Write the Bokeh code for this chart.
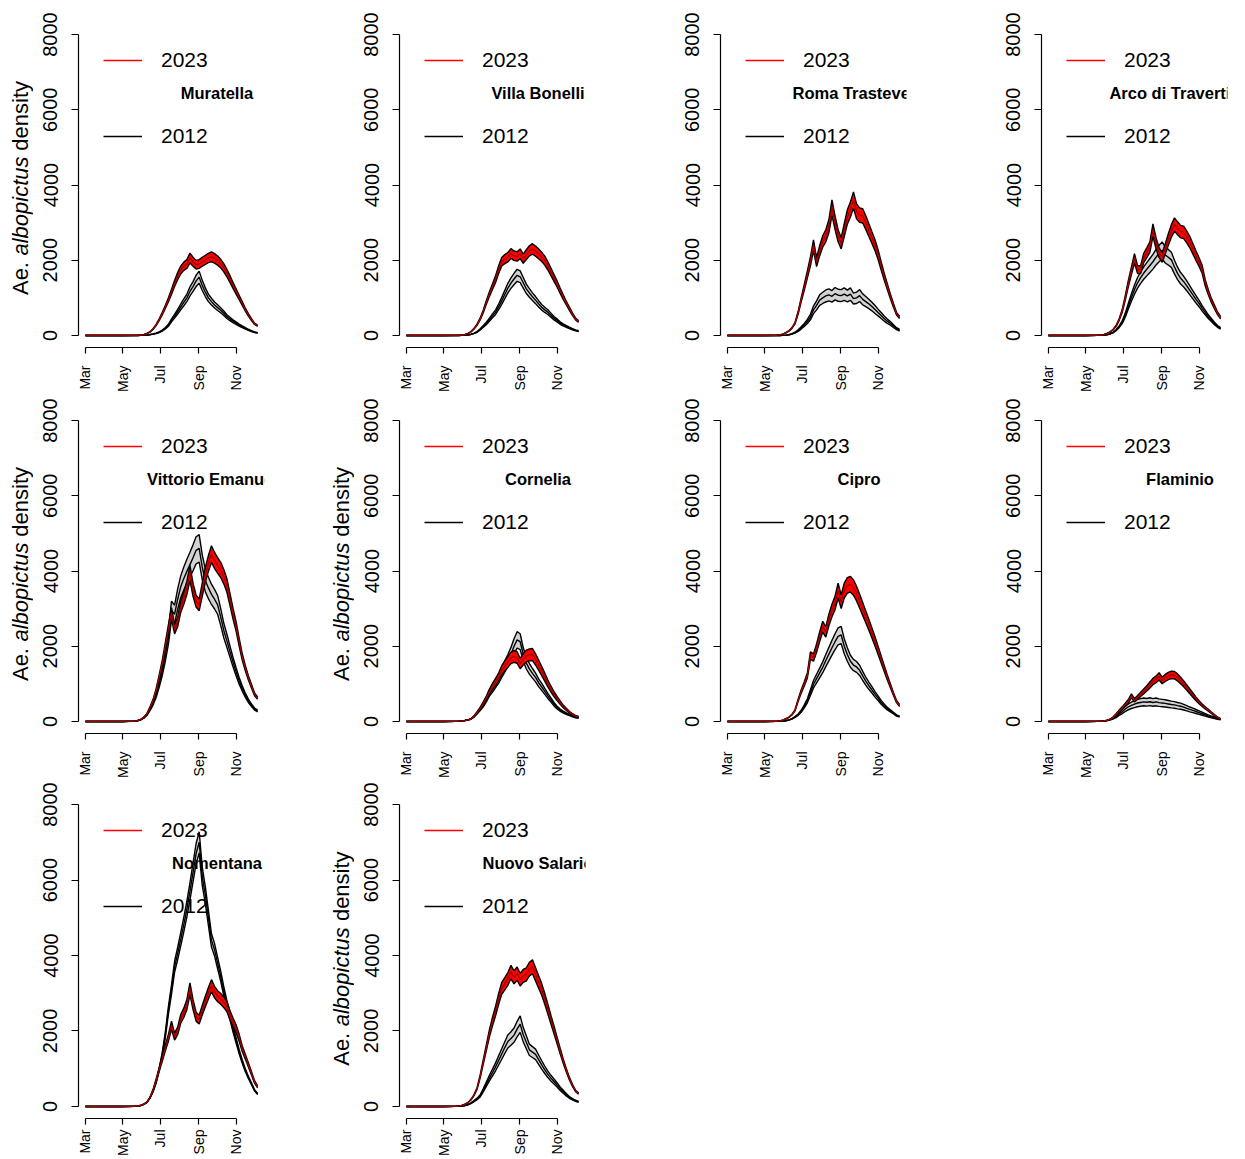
import math
from bokeh.plotting import figure
from bokeh.layouts import row, column
from bokeh.models import Range1d, FixedTicker, Legend, LegendItem
from bokeh.core.properties import value
from bokeh.embed import file_html
from bokeh.resources import INLINE

# ---------------- data ----------------
# day number counted from 1 March
days = [0, 60, 80,
        85, 90, 95, 100, 105, 110, 115, 120, 125, 130,
        135, 140, 145, 150, 155, 160, 165, 170, 175, 180,
        185, 190, 195, 200, 205, 210, 215, 220, 225, 230,
        235, 240, 245, 250, 255, 260, 265, 270, 275, 280]

month_ticks = [0, 61, 122, 184, 245]
month_labels = ["Mar", "May", "Jul", "Sep", "Nov"]
y_ticks = [0, 2000, 4000, 6000, 8000]
y_limits = [0, 8000]
series_labels = ["2023", "2012"]
ylabel_parts = ["Ae.", "albopictus", "density"]
ylabel_styles = ["normal", "italic", "normal"]

stations = ["Muratella", "Villa Bonelli", "Roma Trastevere", "Arco di Travertino",
            "Vittorio Emanuele", "Cornelia", "Cipro", "Flaminio",
            "Nomentana", "Nuovo Salario"]

muratella_2023 = [0, 0, 3, 6, 12, 25, 50, 95, 170, 280, 420, 580, 760,
                  950, 1160, 1380, 1580, 1740, 1840, 1900, 2060, 1960, 1880,
                  1900, 1960, 2010, 2060, 2090, 2050, 1990, 1910, 1800, 1660,
                  1500, 1330, 1170, 1010, 850, 690, 550, 420, 310, 260]
muratella_2023_hw = [0, 0, 0, 0, 1, 2, 3, 6, 10, 17, 25, 35, 45,
                     55, 70, 80, 95, 105, 110, 115, 130, 120, 115,
                     115, 120, 120, 125, 130, 125, 120, 115, 110, 100,
                     90, 80, 70, 60, 50, 40, 33, 25, 19, 16]
muratella_2012 = [0, 0, 0, 1, 3, 6, 12, 22, 38, 58, 85, 130, 190,
                  270, 400, 510, 630, 760, 880, 1000, 1170, 1300, 1450,
                  1550, 1330, 1150, 1000, 900, 810, 740, 670, 590, 500,
                  440, 380, 330, 275, 230, 190, 150, 115, 85, 70]
muratella_2012_hw = [0, 0, 0, 0, 0, 1, 1, 2, 4, 6, 9, 13, 19,
                     27, 40, 50, 63, 76, 90, 100, 120, 130, 150,
                     160, 135, 115, 100, 90, 80, 75, 67, 60, 50,
                     44, 38, 33, 28, 23, 19, 15, 12, 9, 7]

bonelli_2023 = [0, 0, 3, 6, 12, 25, 50, 100, 180, 290, 440, 640, 880,
                1100, 1300, 1500, 1750, 1960, 2030, 2080, 2180, 2120, 2100,
                2170, 2040, 2150, 2250, 2300, 2240, 2170, 2090, 1990, 1850,
                1690, 1530, 1370, 1190, 1020, 860, 710, 570, 440, 370]
bonelli_2023_hw = [0, 0, 0, 0, 1, 2, 3, 6, 11, 17, 26, 38, 50,
                   65, 75, 90, 105, 115, 120, 125, 130, 125, 125,
                   130, 120, 130, 135, 140, 135, 130, 125, 120, 110,
                   100, 90, 80, 70, 60, 50, 42, 34, 26, 22]
bonelli_2012 = [0, 0, 0, 1, 3, 7, 15, 30, 55, 95, 160, 240, 320,
                420, 520, 620, 760, 920, 1090, 1260, 1390, 1500, 1600,
                1560, 1400, 1240, 1130, 1030, 940, 840, 750, 680, 620,
                540, 460, 400, 330, 280, 240, 200, 165, 135, 115]
bonelli_2012_hw = [0, 0, 0, 0, 0, 1, 2, 3, 6, 10, 16, 24, 32,
                   42, 52, 62, 76, 92, 109, 126, 139, 150, 160,
                   156, 140, 124, 113, 103, 94, 84, 75, 68, 62,
                   54, 46, 40, 33, 28, 24, 20, 17, 14, 12]

trastevere_2023 = [0, 0, 5, 15, 35, 70, 120, 200, 330, 600, 950, 1280, 1620,
                   1970, 2400, 1950, 2250, 2500, 2650, 2900, 3400, 3000, 2650,
                   2450, 2800, 3150, 3350, 3600, 3300, 3200, 3180, 3000, 2800,
                   2600, 2400, 2150, 1850, 1560, 1300, 1040, 800, 580, 480]
trastevere_2023_hw = [0, 0, 0, 1, 2, 4, 7, 12, 20, 36, 57, 77, 97,
                      118, 144, 117, 135, 150, 160, 175, 205, 180, 160,
                      150, 170, 190, 200, 215, 200, 190, 190, 180, 170,
                      155, 145, 130, 110, 95, 78, 62, 48, 35, 29]
trastevere_2012 = [0, 0, 0, 1, 3, 8, 20, 40, 75, 130, 200, 280, 370,
                   490, 680, 800, 940, 1000, 1050, 1080, 1040, 1110, 1070,
                   1060, 1100, 1050, 1100, 980, 1000, 1060, 960, 900, 840,
                   770, 690, 610, 530, 450, 380, 320, 250, 180, 140]
trastevere_2012_hw = [0, 0, 0, 0, 0, 1, 3, 6, 11, 20, 30, 42, 55,
                      74, 100, 120, 140, 150, 160, 160, 155, 165, 160,
                      160, 165, 155, 165, 145, 150, 160, 145, 135, 125,
                      115, 105, 90, 80, 68, 57, 48, 38, 27, 21]

travertino_2023 = [0, 0, 5, 12, 25, 50, 90, 150, 250, 420, 650, 1000, 1380,
                   1720, 2050, 1750, 1750, 2060, 2200, 2350, 2800, 2450, 2200,
                   2070, 2300, 2550, 2780, 2950, 2850, 2760, 2740, 2620, 2480,
                   2300, 2120, 1950, 1760, 1400, 1150, 930, 760, 590, 470]
travertino_2023_hw = [0, 0, 0, 1, 2, 3, 5, 9, 15, 25, 39, 60, 83,
                      103, 123, 105, 105, 124, 132, 141, 168, 147, 132,
                      124, 138, 153, 167, 177, 171, 166, 164, 157, 149,
                      138, 127, 117, 106, 84, 69, 56, 46, 35, 28]
travertino_2012 = [0, 0, 2, 5, 10, 20, 40, 75, 140, 230, 350, 540, 780,
                   1010, 1220, 1400, 1540, 1660, 1760, 1860, 1960, 2080, 2180,
                   2260, 2140, 2080, 2010, 1820, 1650, 1520, 1430, 1320, 1200,
                   1080, 960, 850, 720, 610, 500, 410, 320, 240, 190]
travertino_2012_hw = [0, 0, 0, 0, 1, 2, 4, 8, 14, 23, 35, 54, 78,
                      101, 122, 140, 154, 166, 176, 186, 196, 208, 218,
                      226, 214, 208, 201, 182, 165, 152, 143, 132, 120,
                      108, 96, 85, 72, 61, 50, 41, 32, 24, 19]

vittorio_2023 = [0, 0, 10, 25, 55, 110, 200, 370, 560, 830, 1180, 1550, 2000,
                 2450, 2880, 2450, 2650, 3050, 3280, 3550, 3950, 3500, 3200,
                 3100, 3500, 3900, 4200, 4450, 4280, 4150, 4030, 3850, 3620,
                 3250, 2870, 2530, 2110, 1720, 1420, 1160, 940, 720, 620]
vittorio_2023_hw = [0, 0, 1, 1, 3, 6, 10, 18, 28, 42, 59, 78, 100,
                    122, 144, 122, 132, 152, 164, 178, 198, 175, 160,
                    155, 175, 195, 210, 222, 214, 208, 202, 192, 181,
                    162, 143, 126, 105, 86, 71, 58, 47, 36, 31]
vittorio_2012 = [0, 0, 8, 20, 45, 95, 175, 320, 480, 700, 1000, 1340, 1760,
                 2250, 2950, 2850, 3250, 3580, 3800, 3990, 4170, 4350, 4550,
                 4600, 4100, 3750, 3550, 3380, 3250, 3100, 2780, 2420, 2150,
                 1860, 1580, 1320, 1080, 880, 700, 550, 430, 330, 280]
vittorio_2012_hw = [0, 0, 1, 2, 4, 9, 17, 30, 45, 65, 90, 120, 155,
                    195, 250, 240, 270, 290, 305, 320, 330, 345, 360,
                    365, 330, 300, 285, 270, 260, 250, 225, 195, 175,
                    150, 128, 107, 88, 72, 57, 45, 35, 27, 23]

cornelia_2023 = [0, 0, 3, 8, 15, 25, 40, 65, 140, 240, 350, 480, 620,
                 790, 930, 1050, 1180, 1360, 1480, 1580, 1690, 1730, 1700,
                 1540, 1650, 1740, 1770, 1780, 1650, 1500, 1340, 1180, 1010,
                 860, 730, 610, 500, 400, 320, 250, 190, 150, 125]
cornelia_2023_hw = [0, 0, 0, 1, 1, 2, 4, 6, 13, 22, 32, 43, 56,
                    71, 84, 95, 106, 122, 133, 142, 152, 156, 153,
                    139, 149, 157, 159, 160, 149, 135, 121, 106, 91,
                    77, 66, 55, 45, 36, 29, 23, 17, 14, 11]
cornelia_2012 = [0, 0, 3, 7, 14, 25, 40, 70, 130, 220, 320, 430, 580,
                 750, 870, 1000, 1130, 1300, 1460, 1620, 1790, 2000, 2170,
                 2120, 1780, 1550, 1400, 1280, 1170, 1030, 920, 800, 680,
                 570, 460, 370, 300, 250, 210, 170, 140, 110, 95]
cornelia_2012_hw = [0, 0, 0, 1, 1, 3, 4, 7, 13, 22, 32, 43, 58,
                    75, 87, 100, 113, 130, 146, 162, 179, 200, 217,
                    212, 178, 155, 140, 128, 117, 103, 92, 80, 68,
                    57, 46, 37, 30, 25, 21, 17, 14, 11, 10]

cipro_2023 = [0, 0, 5, 15, 35, 70, 110, 180, 300, 560, 800, 1000, 1220,
              1750, 1700, 1950, 2250, 2520, 2380, 2700, 2950, 3150, 3480,
              3180, 3480, 3620, 3650, 3560, 3400, 3200, 2990, 2780, 2570,
              2350, 2130, 1890, 1650, 1410, 1170, 950, 730, 530, 420]
cipro_2023_hw = [0, 0, 0, 1, 2, 4, 6, 10, 17, 32, 46, 57, 70,
                 100, 97, 111, 128, 144, 136, 154, 168, 180, 198,
                 181, 198, 206, 208, 203, 194, 182, 170, 158, 146,
                 134, 121, 108, 94, 80, 67, 54, 42, 30, 24]
cipro_2012 = [0, 0, 2, 5, 10, 20, 40, 70, 120, 180, 270, 400, 550,
              770, 990, 1140, 1290, 1440, 1620, 1790, 1960, 2120, 2260,
              2300, 2000, 1780, 1600, 1500, 1450, 1360, 1210, 1070, 950,
              840, 720, 620, 510, 420, 340, 280, 220, 160, 130]
cipro_2012_hw = [0, 0, 0, 0, 1, 2, 4, 7, 12, 18, 27, 40, 55,
                 77, 99, 114, 129, 144, 162, 179, 196, 212, 226,
                 230, 200, 178, 160, 150, 145, 136, 121, 107, 95,
                 84, 72, 62, 51, 42, 34, 28, 22, 16, 13]

flaminio_2023 = [0, 0, 3, 8, 15, 30, 55, 110, 190, 280, 360, 450, 540,
                 680, 560, 640, 720, 800, 880, 970, 1060, 1120, 1200,
                 1090, 1160, 1210, 1240, 1230, 1170, 1090, 1000, 900, 800,
                 700, 600, 510, 430, 360, 300, 230, 170, 110, 70]
flaminio_2023_hw = [0, 0, 0, 1, 1, 2, 4, 9, 15, 22, 29, 36, 43,
                    54, 45, 51, 58, 64, 70, 78, 85, 90, 96,
                    87, 93, 97, 99, 98, 94, 87, 80, 72, 64,
                    56, 48, 41, 34, 29, 24, 18, 14, 9, 6]
flaminio_2012 = [0, 0, 3, 7, 14, 25, 45, 80, 130, 200, 260, 330, 390,
                 430, 460, 490, 505, 520, 510, 525, 505, 520, 500,
                 490, 480, 465, 450, 440, 420, 405, 380, 350, 320,
                 295, 265, 235, 205, 175, 145, 120, 100, 75, 55]
flaminio_2012_hw = [0, 0, 1, 1, 3, 5, 9, 16, 26, 40, 52, 66, 78,
                    86, 92, 98, 101, 104, 102, 105, 101, 104, 100,
                    98, 96, 93, 90, 88, 84, 81, 76, 70, 64,
                    59, 53, 47, 41, 35, 29, 24, 20, 15, 11]

nomentana_2023 = [0, 0, 5, 15, 30, 60, 110, 230, 430, 700, 980, 1260, 1550,
                  1820, 2150, 1850, 2000, 2320, 2480, 2700, 3120, 2700, 2380,
                  2300, 2550, 2780, 3000, 3200, 3030, 2920, 2850, 2760, 2650,
                  2420, 2230, 2060, 1820, 1530, 1320, 1100, 880, 650, 520]
nomentana_2023_hw = [0, 0, 0, 1, 2, 3, 6, 12, 22, 35, 49, 63, 78,
                     91, 108, 93, 100, 116, 124, 135, 156, 135, 119,
                     115, 128, 139, 150, 160, 152, 146, 143, 138, 133,
                     121, 112, 103, 91, 77, 66, 55, 44, 33, 26]
nomentana_2012 = [0, 0, 5, 12, 25, 55, 110, 230, 400, 640, 980, 1380, 1900,
                  2550, 3100, 3700, 4050, 4430, 4820, 5230, 5700, 6200, 6700,
                  7000, 6100, 5600, 5000, 4400, 4150, 3800, 3450, 3050, 2700,
                  2400, 2050, 1750, 1450, 1190, 960, 770, 600, 430, 330]
nomentana_2012_hw = [0, 0, 0, 1, 1, 2, 4, 9, 16, 26, 39, 55, 76,
                     102, 124, 148, 162, 177, 193, 209, 228, 248, 268,
                     280, 244, 224, 200, 176, 166, 152, 138, 122, 108,
                     96, 82, 70, 58, 48, 38, 31, 24, 17, 13]

salario_2023 = [0, 0, 5, 12, 25, 55, 100, 180, 300, 480, 800, 1180, 1560,
                1940, 2250, 2530, 2850, 3130, 3250, 3380, 3560, 3420, 3520,
                3360, 3460, 3500, 3640, 3700, 3500, 3300, 3100, 2850, 2580,
                2300, 2030, 1750, 1470, 1200, 960, 740, 560, 410, 340]
salario_2023_hw = [0, 0, 0, 1, 1, 3, 5, 9, 15, 24, 40, 59, 78,
                   97, 113, 127, 143, 157, 163, 169, 178, 171, 176,
                   168, 173, 175, 182, 185, 175, 165, 155, 143, 129,
                   115, 102, 88, 74, 60, 48, 37, 28, 21, 17]
salario_2012 = [0, 0, 2, 5, 10, 22, 45, 85, 140, 200, 280, 430, 590,
                750, 900, 1050, 1220, 1390, 1560, 1720, 1800, 1890, 2050,
                2180, 1900, 1700, 1500, 1440, 1380, 1240, 1100, 970, 850,
                750, 660, 570, 470, 390, 310, 240, 190, 150, 120]
salario_2012_hw = [0, 0, 0, 1, 1, 2, 5, 9, 14, 20, 28, 43, 59,
                   75, 90, 105, 122, 139, 156, 172, 180, 189, 205,
                   218, 190, 170, 150, 144, 138, 124, 110, 97, 85,
                   75, 66, 57, 47, 39, 31, 24, 19, 15, 12]

panel_data = [
    (muratella_2023, muratella_2023_hw, muratella_2012, muratella_2012_hw),
    (bonelli_2023, bonelli_2023_hw, bonelli_2012, bonelli_2012_hw),
    (trastevere_2023, trastevere_2023_hw, trastevere_2012, trastevere_2012_hw),
    (travertino_2023, travertino_2023_hw, travertino_2012, travertino_2012_hw),
    (vittorio_2023, vittorio_2023_hw, vittorio_2012, vittorio_2012_hw),
    (cornelia_2023, cornelia_2023_hw, cornelia_2012, cornelia_2012_hw),
    (cipro_2023, cipro_2023_hw, cipro_2012, cipro_2012_hw),
    (flaminio_2023, flaminio_2023_hw, flaminio_2012, flaminio_2012_hw),
    (nomentana_2023, nomentana_2023_hw, nomentana_2012, nomentana_2012_hw),
    (salario_2023, salario_2023_hw, salario_2012, salario_2012_hw),
]
ylabel_panels = {0, 4, 5, 9}

for k, arrs in enumerate(panel_data):
    for a in arrs:
        if len(a) != len(days):
            raise ValueError(f"panel {stations[k]}: length {len(a)} != {len(days)}")

# ---------------- layout ----------------
FONT = "Liberation Sans"
FRAME_W, FRAME_H = 186, 327
FRAME_LEFT = 78          # x of the plot region inside each cell
STRIP_W = 33             # width of the strip holding the y-axis title
col_w = [321, 321, 321, 281]
row_h = [394, 386, 378]
row_top = [22, 14, 12]
row_xstandoff = [12, 12, 5]

XPAD = 0.04 * (days[-1] - days[0])
YPAD = 0.04 * (y_limits[1] - y_limits[0])
X0, X1 = days[0] - XPAD, days[-1] + XPAD
Y0, Y1 = y_limits[0] - YPAD, y_limits[1] + YPAD
PPY = FRAME_H / (Y1 - Y0)


def make_main(k, W, L):
    r, c = divmod(k, 4)
    m23, h23, m12, h12 = panel_data[k]
    H = row_h[r]
    T = row_top[r]
    R = W - L - FRAME_W
    B = H - T - FRAME_H
    p = figure(width=W, height=H, x_range=Range1d(X0, X1), y_range=Range1d(Y0, Y1),
               min_border_left=L, min_border_right=R, min_border_top=T, min_border_bottom=B,
               toolbar_location=None, output_backend="svg", title=None)
    p.outline_line_color = None
    p.xgrid.visible = False
    p.ygrid.visible = False
    p.background_fill_color = "white"
    p.border_fill_color = "white"

    lo12 = [m - h for m, h in zip(m12, h12)]
    hi12 = [m + h for m, h in zip(m12, h12)]
    lo23 = [m - h for m, h in zip(m23, h23)]
    hi23 = [m + h for m, h in zip(m23, h23)]

    p.varea(x=days, y1=lo12, y2=hi12, fill_color="#d3d3d3")
    for ys in (lo12, hi12):
        p.line(days, ys, line_color="black", line_width=1.4)
    k12 = p.line(days, m12, line_color="black", line_width=1.4)
    p.varea(x=days, y1=lo23, y2=hi23, fill_color="#ff0000")
    p.line(days, lo23, line_color="black", line_width=1.4)
    p.line(days, hi23, line_color="black", line_width=1.4)
    p.line(days, m23, line_color="#a00000", line_width=1.3)
    # legend key for 2023 (a red line with no visible points)
    k23 = p.line(x=[days[0]], y=[math.nan], line_color="#ff0000", line_width=1.5)

    # x axis
    xa = p.xaxis[0]
    xa.ticker = FixedTicker(ticks=month_ticks)
    xa.major_label_overrides = dict(zip(month_ticks, month_labels))
    xa.bounds = (month_ticks[0], month_ticks[-1])
    xa.major_label_orientation = math.pi / 2
    xa.major_label_text_font = FONT
    xa.major_label_text_font_size = "14px"
    xa.major_label_text_color = "black"
    xa.major_label_standoff = row_xstandoff[r]
    xa.major_tick_in = 0
    xa.major_tick_out = 6
    xa.minor_tick_line_color = None
    xa.axis_line_color = "black"
    xa.major_tick_line_color = "black"
    xa.axis_line_width = 1.2
    xa.major_tick_line_width = 1.2

    # y axis
    ya = p.yaxis[0]
    ya.ticker = FixedTicker(ticks=y_ticks)
    ya.bounds = (y_limits[0], y_limits[1])
    ya.major_label_orientation = "parallel"
    ya.major_label_text_font = FONT
    ya.major_label_text_font_size = "20px"
    ya.major_label_text_color = "black"
    ya.major_label_standoff = 14
    ya.major_tick_in = 0
    ya.major_tick_out = 7
    ya.minor_tick_line_color = None
    ya.axis_line_color = "black"
    ya.major_tick_line_color = "black"
    ya.axis_line_width = 1.2
    ya.major_tick_line_width = 1.2

    # legend
    leg = Legend(items=[LegendItem(label=series_labels[0], renderers=[k23]),
                        LegendItem(label=series_labels[1], renderers=[k12])],
                 location="top_left", orientation="vertical", margin=0, padding=25,
                 spacing=50, glyph_width=39, glyph_height=26, label_height=26,
                 label_standoff=19, label_text_font=FONT, label_text_font_size="21px",
                 label_text_color="black",
                 background_fill_alpha=0, border_line_alpha=0)
    p.add_layout(leg)

    # station name (clipped to the plot region, like the original)
    ppx = FRAME_W / (X1 - X0)
    name_x = X0 + 138.5 / ppx
    name_y = Y1 - 70.5 / PPY
    p.text(x=[name_x], y=[name_y], text=[stations[k]], text_align="center",
           text_baseline="middle", text_font=value(FONT), text_font_style="bold",
           text_font_size="16.5px", text_color="black")
    return p


def make_strip(r):
    """Narrow figure left of the axis, sharing the panel's vertical frame,
    that carries the y-axis title 'Ae. albopictus density' (italic species)."""
    H = row_h[r]
    T = row_top[r]
    B = H - T - FRAME_H
    s = figure(width=STRIP_W, height=H, x_range=Range1d(0, STRIP_W), y_range=Range1d(Y0, Y1),
               min_border_left=0, min_border_right=0, min_border_top=T, min_border_bottom=B,
               x_axis_location=None, y_axis_location=None,
               toolbar_location=None, output_backend="svg", title=None)
    s.outline_line_color = None
    s.background_fill_color = "white"
    s.border_fill_color = "white"
    s.grid.visible = False
    # pixel offsets (above the plot-region bottom) of the three pieces
    start_albo = 92.5
    gap = 6.5
    albo_len = 99.0
    pieces = [
        (ylabel_parts[0], ylabel_styles[0], start_albo - gap, "right"),
        (ylabel_parts[1], ylabel_styles[1], start_albo, "left"),
        (ylabel_parts[2], ylabel_styles[2], start_albo + albo_len + gap, "left"),
    ]
    for txt, style, off, align in pieces:
        s.text(x=[20], y=[Y0 + off / PPY], text=[txt], angle=math.pi / 2,
               text_align=align, text_baseline="middle", text_font=value(FONT),
               text_font_size="22px", text_font_style=style, text_color="black")
    return s


def make_cell(k):
    r, c = divmod(k, 4)
    W = col_w[c]
    if k in ylabel_panels:
        return [make_strip(r), make_main(k, W - STRIP_W, FRAME_LEFT - STRIP_W)]
    return [make_main(k, W, FRAME_LEFT)]


rows = []
for r0 in (0, 4, 8):
    cells = []
    for k in range(r0, min(r0 + 4, len(stations))):
        cells.extend(make_cell(k))
    rows.append(row(*cells))
layout = column(*rows)

open("out.html", "w").write(file_html(layout, INLINE))
